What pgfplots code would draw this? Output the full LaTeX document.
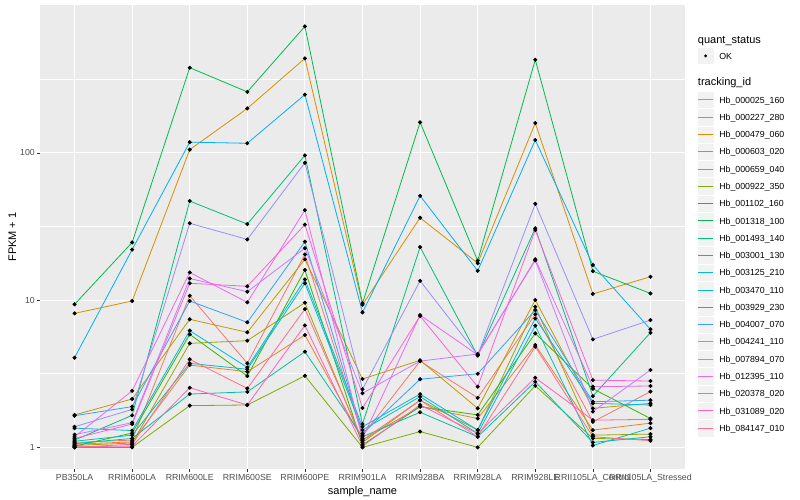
\documentclass[border=0pt]{standalone}
\usepackage{fontspec}
\setmainfont{Liberation Sans}
\usepackage{pgfplots}
\usepackage{pgfplotstable}
\pgfplotsset{compat=1.18}

\definecolor{panel}{HTML}{EBEBEB}
\definecolor{keybg}{HTML}{F2F2F2}
\definecolor{ticklab}{HTML}{4D4D4D}
\definecolor{tickcol}{HTML}{333333}
% ggplot hue palette, 20 levels
\definecolor{c01}{HTML}{F8766D}
\definecolor{c02}{HTML}{EA8331}
\definecolor{c03}{HTML}{D89000}
\definecolor{c04}{HTML}{C09B00}
\definecolor{c05}{HTML}{A3A500}
\definecolor{c06}{HTML}{7CAE00}
\definecolor{c07}{HTML}{39B600}
\definecolor{c08}{HTML}{00BB4E}
\definecolor{c09}{HTML}{00BF7D}
\definecolor{c10}{HTML}{00C1A3}
\definecolor{c11}{HTML}{00BFC4}
\definecolor{c12}{HTML}{00BAE0}
\definecolor{c13}{HTML}{00B0F6}
\definecolor{c14}{HTML}{35A2FF}
\definecolor{c15}{HTML}{9590FF}
\definecolor{c16}{HTML}{C77CFF}
\definecolor{c17}{HTML}{E76BF3}
\definecolor{c18}{HTML}{FA62DB}
\definecolor{c19}{HTML}{FF62BC}
\definecolor{c20}{HTML}{FF6C91}

% FPKM + 1 per sample (rows) and tracking id (columns)
\pgfplotstableread{
x  s01  s02  s03  s04  s05  s06  s07  s08  s09  s10  s11  s12  s13  s14  s15  s16  s17  s18  s19  s20
0  1.08 1.05 8.12 1.66 1.03 1.00 1.02 9.35 1.12 1.06 1.10 1.35 4.06 1.64 1.38 1.22 1.18 1.15 1.01 1.00
1  1.12 1.09 9.85 2.13 1.07 1.00 1.25 24.6 1.65 1.15 1.21 1.30 22.0 1.89 1.81 1.47 2.42 1.44 1.02 1.05
2  10.7 3.62 105  7.40 5.08 1.92 5.85 378  47.0 2.30 3.72 6.20 118  9.85 33.2 14.0 15.4 13.0 2.54 3.96
3  3.72 3.26 200  6.04 5.30 1.94 3.05 259  32.8 2.38 3.39 3.49 116  7.06 25.8 11.4 9.65 12.4 1.94 2.51
4  20.4 5.79 437  18.9 9.59 3.06 16.0 721  96.0 4.46 13.0 13.8 248  24.9 85.5 22.5 40.8 32.5 6.73 8.69
5  1.20 1.12 9.30 2.91 1.08 1.00 1.04 9.50 1.44 1.18 1.31 1.38 8.25 1.24 2.48 2.33 1.15 1.85 1.02 1.12
6  3.85 1.89 36.2 3.90 2.09 1.28 1.89 161  22.9 1.73 2.21 2.30 51.0 2.90 13.5 3.85 7.91 7.80 1.94 2.09
7  2.17 1.57 17.8 1.84 1.31 1.00 1.66 18.5 4.20 1.18 1.24 1.31 15.8 3.16 4.24 4.30 4.24 2.58 1.24 1.18
8  8.00 4.95 159  10.0 9.00 2.62 5.94 428  30.7 2.79 6.70 7.50 122  8.55 45.0 18.6 18.9 29.9 2.97 4.82
9  1.49 1.31 11.0 1.84 1.21 1.15 2.50 15.7 2.23 1.08 1.03 1.99 17.3 2.04 5.41 1.75 2.58 2.86 1.53 1.18
10 2.39 1.46 14.4 1.99 1.23 1.13 1.57 11.1 6.00 1.18 1.35 1.94 6.33 2.09 7.31 3.35 2.61 2.82 1.55 1.11
}\fpkm

% legend keys: grey square (not counted in the row height), invisible box sets the row height
\pgfplotsset{
  keyline/.style={legend image code/.code={
      \path[fill=keybg, draw=white, line width=0.6pt, overlay] (0pt,-5.49pt) rectangle (17.28pt,11.79pt);
      \path[draw=none, fill=none] (0pt,-5.49pt) rectangle (17.28pt,11.79pt);
      \draw[##1, line width=0.9pt] (1pt,3.15pt) -- (16.28pt,3.15pt);}},
  keypoint/.style={legend image code/.code={
      \path[fill=keybg, draw=white, line width=0.6pt, overlay] (0pt,-5.49pt) rectangle (17.28pt,11.79pt);
      \path[draw=none, fill=none] (0pt,-5.49pt) rectangle (17.28pt,10pt);
      \fill[black, draw=none] (8.64pt,3.15pt) circle (1.6pt);}},
  keytitleA/.style={legend image code/.code={
      \path[draw=none, fill=none] (0pt,-5.3pt) rectangle (17.28pt,10pt);}},
  keytitleB/.style={legend image code/.code={
      \path[draw=none, fill=none] (0pt,-5.3pt) rectangle (17.28pt,21.42pt);}},
}

\begin{document}
\begin{tikzpicture}
\useasboundingbox (-40pt,-31pt) rectangle (760pt,469pt);
\begin{axis}[
  scale only axis,
  width=645pt, height=464pt,
  ymode=log,
  xmin=-0.6, xmax=10.6,
  ymin=0.713, ymax=1007,
  xtick={0,...,10},
  xticklabels={PB350LA,RRIM600LA,RRIM600LE,RRIM600SE,RRIM600PE,RRIM901LA,RRIM928BA,RRIM928LA,RRIM928LE,RRII105LA\_Control,RRII105LA\_Stressed},
  ytick={1,10,100},
  yticklabels={1,10,100},
  minor ytick={3.1623,31.623,316.23},
  grid=both,
  major grid style={white, line width=1.07pt},
  minor grid style={white, line width=0.53pt},
  axis background/.style={fill=panel},
  axis line style={draw=none},
  tick align=outside,
  xtick pos=left, ytick pos=left,
  major tick length=2.75pt,
  minor tick length=0pt,
  tick style={tickcol, line width=0.5pt},
  ticklabel style={font=\fontsize{8.8}{10}\selectfont, text=ticklab, inner sep=0pt},
  xticklabel style={anchor=north, yshift=-2.2pt},
  yticklabel style={anchor=east, xshift=-2.2pt},
  xlabel={sample\_name},
  ylabel={FPKM + 1},
  label style={font=\fontsize{11}{13}\selectfont, inner sep=0pt},
  xlabel style={at={(axis description cs:0.5,-0.0539)}, anchor=base},
  ylabel style={at={(axis description cs:-0.0372,0.5)}, anchor=base},
  legend style={at={(axis description cs:1.0186,0.93804)}, anchor=north west,
    draw=none, fill=none, font=\fontsize{8.8}{10}\selectfont,
    row sep=0pt, column sep=3pt, inner sep=0pt, outer sep=0pt,
    cells={anchor=base west}},
  every axis plot/.append style={line width=0.8pt},
]
\addlegendimage{keytitleA}
\addlegendentry{\fontsize{11}{13}\selectfont\hspace*{-21.3pt}quant\_status}
\addlegendimage{keypoint}
\addlegendentry{OK}
\addlegendimage{keytitleB}
\addlegendentry{\fontsize{11}{13}\selectfont\hspace*{-21.3pt}tracking\_id}

\addplot[c01, keyline] table[x=x, y=s01] {\fpkm}; \addlegendentry{Hb\_000025\_160}
\addplot[c02, keyline] table[x=x, y=s02] {\fpkm}; \addlegendentry{Hb\_000227\_280}
\addplot[c03, keyline] table[x=x, y=s03] {\fpkm}; \addlegendentry{Hb\_000479\_060}
\addplot[c04, keyline] table[x=x, y=s04] {\fpkm}; \addlegendentry{Hb\_000603\_020}
\addplot[c05, keyline] table[x=x, y=s05] {\fpkm}; \addlegendentry{Hb\_000659\_040}
\addplot[c06, keyline] table[x=x, y=s06] {\fpkm}; \addlegendentry{Hb\_000922\_350}
\addplot[c07, keyline] table[x=x, y=s07] {\fpkm}; \addlegendentry{Hb\_001102\_160}
\addplot[c08, keyline] table[x=x, y=s08] {\fpkm}; \addlegendentry{Hb\_001318\_100}
\addplot[c09, keyline] table[x=x, y=s09] {\fpkm}; \addlegendentry{Hb\_001493\_140}
\addplot[c10, keyline] table[x=x, y=s10] {\fpkm}; \addlegendentry{Hb\_003001\_130}
\addplot[c11, keyline] table[x=x, y=s11] {\fpkm}; \addlegendentry{Hb\_003125\_210}
\addplot[c12, keyline] table[x=x, y=s12] {\fpkm}; \addlegendentry{Hb\_003470\_110}
\addplot[c13, keyline] table[x=x, y=s13] {\fpkm}; \addlegendentry{Hb\_003929\_230}
\addplot[c14, keyline] table[x=x, y=s14] {\fpkm}; \addlegendentry{Hb\_004007\_070}
\addplot[c15, keyline] table[x=x, y=s15] {\fpkm}; \addlegendentry{Hb\_004241\_110}
\addplot[c16, keyline] table[x=x, y=s16] {\fpkm}; \addlegendentry{Hb\_007894\_070}
\addplot[c17, keyline] table[x=x, y=s17] {\fpkm}; \addlegendentry{Hb\_012395\_110}
\addplot[c18, keyline] table[x=x, y=s18] {\fpkm}; \addlegendentry{Hb\_020378\_020}
\addplot[c19, keyline] table[x=x, y=s19] {\fpkm}; \addlegendentry{Hb\_031089\_020}
\addplot[c20, keyline] table[x=x, y=s20] {\fpkm}; \addlegendentry{Hb\_084147\_010}

% points on top of all lines
\pgfplotsinvokeforeach{01,02,03,04,05,06,07,08,09,10,11,12,13,14,15,16,17,18,19,20}{
  \addplot[only marks, forget plot, mark=*, mark size=1.6pt, black] table[x=x, y=s#1] {\fpkm};
}
\end{axis}
\end{tikzpicture}
\end{document}
